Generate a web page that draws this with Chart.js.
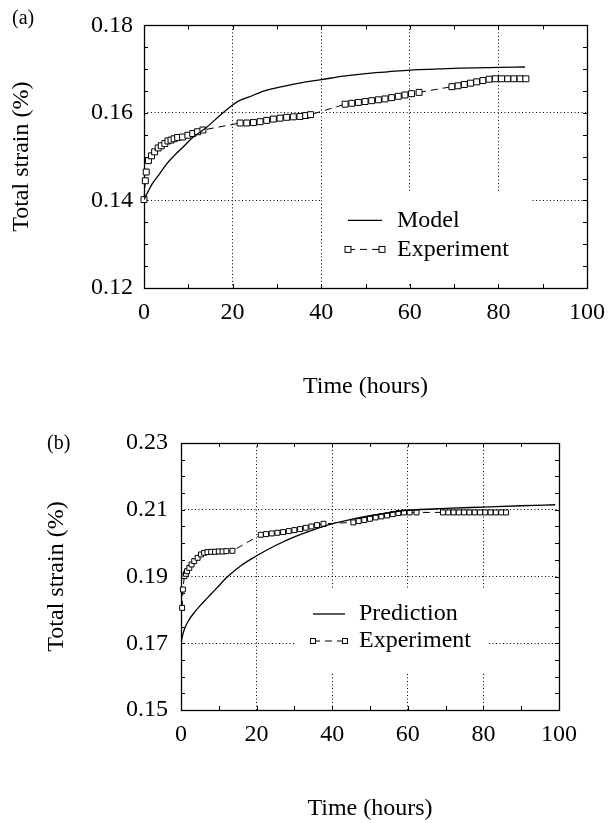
<!DOCTYPE html>
<html>
<head>
<meta charset="utf-8">
<title>Total strain vs time</title>
<script src="https://cdn.jsdelivr.net/npm/chart.js@4.4.1/dist/chart.umd.min.js"></script>
<style>
    html, body { margin: 0; padding: 0; background: #fff; }
    #page { position: relative; width: 615px; height: 823px; }
    canvas { position: absolute; left: 0; }
    #chartA { top: 0; }
    #chartB { top: 411px; }
</style>
</head>
<body>
<div id="page">
    <canvas id="chartA" width="615" height="411"></canvas>
    <canvas id="chartB" width="615" height="412"></canvas>
</div>
<script>
// ── Datos panel (a) ─────────────────────────────────────────────────────────
const modelTimeA   = [0, 1, 2, 3.6, 5, 6.5, 9, 11, 14, 17, 20, 21.5, 23.6, 27, 32, 36, 40, 45, 50, 55, 60, 70, 80, 86];
const modelStrainA = [0.1402, 0.1422, 0.1440, 0.1462, 0.1482, 0.1499, 0.1524, 0.1544, 0.1566, 0.1593, 0.1618, 0.1628,
                      0.1636, 0.1650, 0.1662, 0.1670, 0.1676, 0.1684, 0.1690, 0.1694, 0.1698, 0.1702, 0.1704, 0.1705];

const expTimeA   = [0, 0.3, 0.5, 1, 1.7, 2.4, 3.2, 3.9, 4.7, 5.4, 6.1, 6.8, 7.6, 8.7, 9.9, 11, 12.1, 13.3,
                    21.7, 23.2, 24.7, 26.2, 27.7, 29.2, 30.7, 32.2, 33.7, 35.2, 36.5, 37.6,
                    45.4, 46.9, 48.4, 49.9, 51.4, 52.9, 54.4, 55.9, 57.4, 58.9, 60.4, 62.1,
                    69.5, 70.9, 72.3, 73.7, 75.1, 76.5, 77.9, 79.3, 80.7, 82.1, 83.5, 84.9, 86.2];
const expStrainA = [0.1402, 0.1445, 0.1465, 0.1491, 0.1502, 0.1511, 0.1520, 0.1525, 0.1530, 0.1536, 0.1538, 0.1541,
                    0.1544, 0.1545, 0.1549, 0.1553, 0.1557, 0.1561,
                    0.1577, 0.1577, 0.1578, 0.1580, 0.1583, 0.1586, 0.1588, 0.1590, 0.1591, 0.1592, 0.1594, 0.1596,
                    0.1620, 0.1622, 0.1624, 0.1626, 0.1628, 0.1630, 0.1632, 0.1635, 0.1638, 0.1641, 0.1644, 0.1647,
                    0.1660, 0.1662, 0.1665, 0.1668, 0.1671, 0.1674, 0.1677, 0.1678, 0.1678, 0.1678, 0.1678, 0.1678, 0.1678];

// ── Datos panel (b) ─────────────────────────────────────────────────────────
const predTimeB   = [0, 0.3, 1, 2, 3.5, 5, 7, 9.5, 12.3, 16, 20, 25, 30, 35, 40, 45, 50, 55, 60, 70, 80, 90, 99];
const predStrainB = [0.1695, 0.1718, 0.1745, 0.1768, 0.1792, 0.1812, 0.1836, 0.1866, 0.1899, 0.1934, 0.1962, 0.1993,
                     0.2019, 0.2040, 0.2058, 0.2071, 0.2082, 0.2091, 0.2098, 0.2104, 0.2108, 0.2112, 0.2115];

const expTimeB   = [0.3, 0.5, 0.9, 1.3, 1.6, 2.2, 2.8, 3.5, 4.4, 5.3, 6.1, 7, 8, 9, 10, 11, 12, 13.6,
                    21.1, 22.5, 24, 25.5, 27, 28.5, 30, 31.5, 33, 34.5, 36, 37.7,
                    45.6, 47, 48.5, 50, 51.5, 53, 54.5, 56, 57.5, 59, 60.5, 62.3,
                    69.3, 70.7, 72.1, 73.5, 74.9, 76.3, 77.7, 79.1, 80.5, 81.9, 83.3, 84.7, 86];
const expStrainB = [0.1806, 0.1861, 0.1901, 0.1908, 0.1916, 0.1926, 0.1936, 0.1946, 0.1956, 0.1966, 0.1971, 0.1973,
                    0.1974, 0.1974, 0.1975, 0.1975, 0.1976, 0.1977,
                    0.2025, 0.2027, 0.2029, 0.2031, 0.2033, 0.2036, 0.2039, 0.2042, 0.2046, 0.2050, 0.2054, 0.2058,
                    0.2062, 0.2066, 0.2069, 0.2073, 0.2077, 0.2080, 0.2083, 0.2087, 0.2090, 0.2092, 0.2092, 0.2092,
                    0.2092, 0.2092, 0.2092, 0.2092, 0.2092, 0.2092, 0.2092, 0.2092, 0.2092, 0.2092, 0.2092, 0.2092, 0.2092];

// ── Ejes ────────────────────────────────────────────────────────────────────
const timeRange  = [0, 100];
const timeStep   = 10;   // marcas menores
const timeMajor  = 20;   // etiquetas + rejilla
const strainRangeA = [0.12, 0.18];
const strainRangeB = [0.15, 0.23];
const strainStep   = 0.005;
const strainMajor  = 0.02;

const SERIF = "'Liberation Serif', 'Times New Roman', serif";
Chart.defaults.font.family = SERIF;
Chart.defaults.font.size = 24;
Chart.defaults.color = '#000';

const pts = (xs, ys) => xs.map((x, i) => ({ x, y: ys[i] }));
const isMul = (v, step) => Math.abs(v / step - Math.round(v / step)) < 1e-6;

// ── Marco, marcas interiores, leyenda y etiqueta de panel ──────────────────
const figureDecor = {
    id: 'figureDecor',
    beforeDatasetsDraw(chart, args, o) {
        const { ctx, chartArea: a } = chart;
        ctx.save();
        ctx.fillStyle = '#fff';
        ctx.fillRect(a.left + o.box.x, a.top + o.box.y, o.box.w, o.box.h);

        ctx.strokeStyle = '#000';
        ctx.lineWidth = 1;
        ctx.beginPath();
        const xs = chart.scales.x, ys = chart.scales.y;
        xs.ticks.forEach(t => {
            const p = Math.round(xs.getPixelForValue(t.value)) + 0.5;
            ctx.moveTo(p, a.top);    ctx.lineTo(p, a.top + 4);
            ctx.moveTo(p, a.bottom); ctx.lineTo(p, a.bottom - 4);
        });
        ys.ticks.forEach(t => {
            const p = Math.round(ys.getPixelForValue(t.value)) + 0.5;
            ctx.moveTo(a.left, p);  ctx.lineTo(a.left + 4, p);
            ctx.moveTo(a.right, p); ctx.lineTo(a.right - 4, p);
        });
        ctx.stroke();

        ctx.lineWidth = 1.3;
        ctx.strokeRect(Math.round(a.left) + 0.5, Math.round(a.top) + 0.5,
                       Math.round(a.width), Math.round(a.height));
        ctx.restore();
    },
    afterDatasetsDraw(chart, args, o) {
        const { ctx, chartArea: a } = chart;
        ctx.save();
        chart.data.datasets.forEach((ds, i) => {
            const y  = a.top + o.rows[i];
            const x1 = a.left + o.sample[0], x2 = a.left + o.sample[1];
            ctx.strokeStyle = '#000';
            ctx.lineWidth = ds.borderWidth;
            ctx.setLineDash(ds.borderDash || []);
            ctx.beginPath(); ctx.moveTo(x1, y); ctx.lineTo(x2, y); ctx.stroke();
            ctx.setLineDash([]);
            if (ds.pointRadius > 0) {
                const s = ds.pointRadius * Math.SQRT1_2;
                ctx.lineWidth = 1;
                [x1, x2].forEach(px => {
                    ctx.fillStyle = '#fff';
                    ctx.fillRect(px - s, y - s, 2 * s, 2 * s);
                    ctx.strokeRect(px - s, y - s, 2 * s, 2 * s);
                });
            }
            ctx.fillStyle = '#000';
            ctx.font = '24px ' + SERIF;
            ctx.textBaseline = 'middle';
            ctx.textAlign = 'left';
            ctx.fillText(ds.label, a.left + o.textX, y);
        });
        ctx.restore();
    },
    afterDraw(chart, args, o) {
        const { ctx } = chart;
        ctx.save();
        ctx.fillStyle = '#000';
        ctx.font = '20px ' + SERIF;
        ctx.textBaseline = 'middle';
        ctx.fillText(o.tag.text, o.tag.x, o.tag.y);
        ctx.restore();
    }
};

function buildChart(canvasId, cfg) {
    const yMin = cfg.yRange[0], yMax = cfg.yRange[1];
    const yIsMajor = v => isMul(v - yMin, strainMajor);

    const datasets = [
        {
            label: cfg.lineLabel,
            data: pts(cfg.lineX, cfg.lineY),
            borderColor: '#000',
            borderWidth: 1.3,
            pointRadius: 0,
            cubicInterpolationMode: 'monotone',
            fill: false
        },
        {
            label: 'Experiment',
            data: pts(cfg.expX, cfg.expY),
            borderColor: '#000',
            borderWidth: 1,
            borderDash: [7, 5],
            pointStyle: 'rect',
            pointRadius: cfg.markerR,
            pointBorderWidth: 1,
            pointBorderColor: '#000',
            pointBackgroundColor: '#fff',
            tension: 0,
            clip: false,
            fill: false
        }
    ];

    return new Chart(document.getElementById(canvasId), {
        type: 'line',
        data: { datasets },
        plugins: [figureDecor],
        options: {
            responsive: false,
            animation: false,
            devicePixelRatio: 1,
            layout: { padding: cfg.padding },
            plugins: {
                legend: { display: false },
                tooltip: { enabled: false },
                figureDecor: cfg.decor
            },
            scales: {
                x: {
                    type: 'linear',
                    min: timeRange[0], max: timeRange[1],
                    afterFit: s => { s.height = cfg.xHeight; },
                    ticks: {
                        stepSize: timeStep, autoSkip: false, maxRotation: 0, padding: cfg.xTickPad,
                        callback: v => isMul(v, timeMajor) ? String(v) : ''
                    },
                    grid: {
                        drawTicks: false, lineWidth: 1,
                        color: c => (c.tick && isMul(c.tick.value, timeMajor) &&
                                     c.tick.value > timeRange[0] && c.tick.value < timeRange[1]) ? '#000' : 'rgba(0,0,0,0)'
                    },
                    border: { display: false, dash: [1, 2.5] },
                    title: {
                        display: true, text: 'Time (hours)',
                        font: { size: 24, lineHeight: 1.1 },
                        padding: { top: 0, bottom: cfg.xTitlePad }
                    }
                },
                y: {
                    type: 'linear',
                    min: yMin, max: yMax,
                    afterFit: s => { s.width = cfg.yWidth; },
                    ticks: {
                        stepSize: strainStep, autoSkip: false, padding: cfg.yTickPad,
                        callback: v => yIsMajor(v) ? v.toFixed(2) : ''
                    },
                    grid: {
                        drawTicks: false, lineWidth: 1,
                        color: c => (c.tick && yIsMajor(c.tick.value) &&
                                     c.tick.value > yMin + 1e-9 && c.tick.value < yMax - 1e-9) ? '#000' : 'rgba(0,0,0,0)'
                    },
                    border: { display: false, dash: [1, 2.5] },
                    title: {
                        display: true, text: 'Total strain (%)',
                        font: { size: 24, lineHeight: 1.1 },
                        padding: { top: cfg.yTitlePad, bottom: 0 }
                    }
                }
            }
        }
    });
}

// ── Panel (a) ───────────────────────────────────────────────────────────────
buildChart('chartA', {
    lineLabel: 'Model',
    lineX: modelTimeA, lineY: modelStrainA,
    expX: expTimeA, expY: expStrainA,
    markerR: 4.2,
    yRange: strainRangeA,
    padding: { top: 18, right: 19, left: 0, bottom: 0 },
    yWidth: 144, xHeight: 123,
    xTickPad: 10, yTickPad: 11,
    xTitlePad: 11, yTitlePad: 9,
    decor: {
        box: { x: 178, y: 167, w: 208, h: 90 },
        rows: [195, 224], sample: [204, 238], textX: 253,
        tag: { text: '(a)', x: 12, y: 19 }
    }
});

// ── Panel (b) ───────────────────────────────────────────────────────────────
buildChart('chartB', {
    lineLabel: 'Prediction',
    lineX: predTimeB, lineY: predStrainB,
    expX: expTimeB, expY: expStrainB,
    markerR: 3.5,
    yRange: strainRangeB,
    padding: { top: 32, right: 56, left: 0, bottom: 0 },
    yWidth: 181, xHeight: 113,
    xTickPad: 10, yTickPad: 13,
    xTitlePad: 1, yTitlePad: 44,
    decor: {
        box: { x: 114, y: 145, w: 193, h: 85 },
        rows: [171, 198], sample: [132, 164], textX: 178,
        tag: { text: '(b)', x: 47, y: 33 }
    }
});
</script>
</body>
</html>
